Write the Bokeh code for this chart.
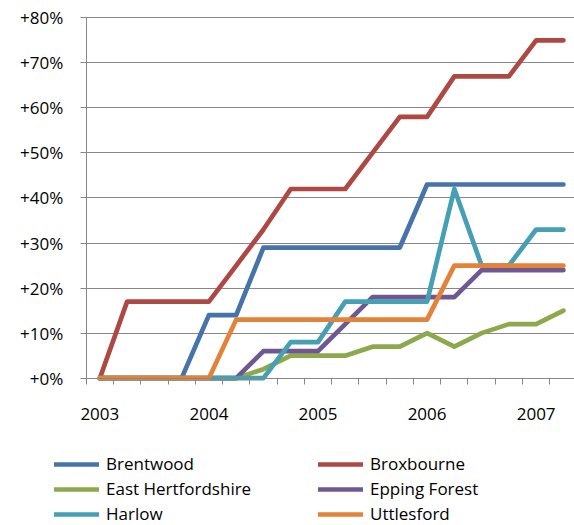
from bokeh.plotting import figure
from bokeh.models import FixedTicker, Legend, LegendItem, Range1d
from bokeh.embed import file_html
from bokeh.resources import INLINE

# Quarterly points, 2003 Q1 .. 2007 Q2 (category index)
quarters = list(range(18))
year_labels = ["2003", "2004", "2005", "2006", "2007"]
year_index = [0, 4, 8, 12, 16]

brentwood = [0, 0, 0, 0, 14, 14, 29, 29, 29, 29, 29, 29, 43, 43, 43, 43, 43, 43]
broxbourne = [0, 17, 17, 17, 17, 25, 33, 42, 42, 42, 50, 58, 58, 67, 67, 67, 75, 75]
east_herts = [0, 0, 0, 0, 0, 0, 2, 5, 5, 5, 7, 7, 10, 7, 10, 12, 12, 15]
epping = [0, 0, 0, 0, 0, 0, 6, 6, 6, 12, 18, 18, 18, 18, 24, 24, 24, 24]
harlow = [0, 0, 0, 0, 0, 0, 0, 8, 8, 17, 17, 17, 17, 42, 25, 25, 33, 33]
uttlesford = [0, 0, 0, 0, 0, 13, 13, 13, 13, 13, 13, 13, 13, 25, 25, 25, 25, 25]

series_names = ["Brentwood", "Broxbourne", "East Hertfordshire",
                "Epping Forest", "Harlow", "Uttlesford"]
series_values = [brentwood, broxbourne, east_herts, epping, harlow, uttlesford]
series_colors = ["#4673AA", "#AE4843", "#8CAA4B", "#6F5891", "#459FB5", "#E3833A"]

y_ticks = [0, 10, 20, 30, 40, 50, 60, 70, 80]

FONT = "Open Sans"
GRAY = "#878787"

# the frame covers the whole canvas; axes are pinned at the data origin
p = figure(width=574, height=525, output_backend="svg", toolbar_location=None,
           x_range=Range1d(-3.643, 17.406), y_range=Range1d(-32.70, 83.84),
           min_border=0)
p.outline_line_color = None
p.background_fill_color = "white"

# x axis: tick marks at category boundaries, labels at year centres
xa = p.xaxis[0]
xa.fixed_location = 0
xa.bounds = (-0.5, 17.5)
xa.ticker = FixedTicker(ticks=year_index, minor_ticks=[q - 0.5 for q in quarters])
xa.major_label_overrides = {i: lab for i, lab in zip(year_index, year_labels)}
xa.major_tick_out = 0
xa.major_tick_in = 0
xa.minor_tick_out = 6
xa.minor_tick_in = 0
xa.minor_tick_line_color = GRAY
xa.axis_line_color = GRAY
xa.major_label_standoff = 24

# y axis
ya = p.yaxis[0]
ya.fixed_location = -0.5
ya.bounds = (0, 80)
ya.ticker = FixedTicker(ticks=y_ticks, minor_ticks=[])
ya.major_label_overrides = {v: f"+{v}%" for v in y_ticks}
ya.major_tick_out = 6
ya.major_tick_in = 0
ya.major_tick_line_color = GRAY
ya.axis_line_color = GRAY
ya.major_label_standoff = 17

for ax in (xa, ya):
    ax.major_label_text_font = FONT
    ax.major_label_text_font_size = "17px"
    ax.major_label_text_color = "#000000"

p.xgrid.grid_line_color = None
yg = p.ygrid[0]
yg.ticker = FixedTicker(ticks=y_ticks)
yg.grid_line_color = GRAY
yg.grid_line_width = 1
if "cross_bounds" in yg.properties():
    yg.cross_bounds = (-0.5, 17.5)

items = []
for name, vals, col in zip(series_names, series_values, series_colors):
    r = p.line(quarters, vals, line_width=4.7, line_color=col,
               line_cap="round", line_join="round")
    items.append(LegendItem(label=name, renderers=[r]))

legend = Legend(items=items, ncols=2, orientation="horizontal",
                location=(54, 0), glyph_width=45, glyph_height=20,
                label_height=20, label_width=210, label_standoff=7,
                spacing=2, padding=0, margin=0,
                border_line_color=None, background_fill_alpha=0,
                label_text_font=FONT, label_text_font_size="17px",
                label_text_color="#000000")
p.add_layout(legend, "center")

open("out.html", "w").write(file_html(p, INLINE))
